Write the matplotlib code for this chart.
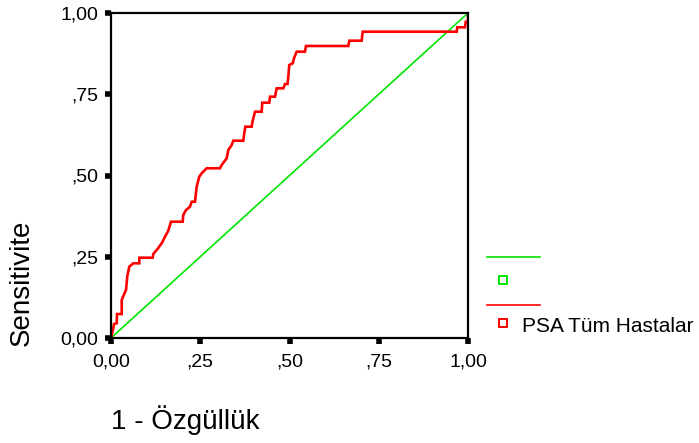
import matplotlib.pyplot as plt
from matplotlib.lines import Line2D

plt.rcParams['font.family'] = ['Liberation Sans', 'DejaVu Sans']

# ROC curve vertices
fpr = [0.0, 0.002, 0.0064, 0.0084, 0.016, 0.0168, 0.030, 0.030, 0.0345, 0.042,
       0.0457, 0.0513, 0.0625, 0.0793, 0.0793, 0.1168, 0.1185, 0.1297, 0.142, 0.1513,
       0.1605, 0.168, 0.2008, 0.2025, 0.21, 0.2213, 0.226, 0.2353, 0.24, 0.2473,
       0.254, 0.268, 0.3053, 0.31, 0.324, 0.3286, 0.338, 0.3426, 0.3706, 0.3725,
       0.3762, 0.394, 0.397, 0.4034, 0.422, 0.4238, 0.4434, 0.4454, 0.4594, 0.4641,
       0.4826, 0.4874, 0.4944, 0.4966, 0.4994, 0.509, 0.5126, 0.520, 0.5434, 0.5462,
       0.6647, 0.6675, 0.7022, 0.705, 0.9683, 0.970, 0.9916, 0.9936, 1.0, 1.0]
tpr = [0.0, 0.0092, 0.0308, 0.0431, 0.0452, 0.0738, 0.0738, 0.1169, 0.1292, 0.1477,
       0.1908, 0.2194, 0.2298, 0.2298, 0.2471, 0.2471, 0.2585, 0.2729, 0.2914, 0.3117,
       0.3302, 0.3578, 0.3578, 0.3785, 0.3938, 0.404, 0.4194, 0.4194, 0.4655, 0.4963,
       0.5068, 0.5222, 0.5222, 0.5323, 0.5529, 0.5785, 0.5938, 0.6071, 0.6071, 0.6246,
       0.6502, 0.6502, 0.6686, 0.6963, 0.6963, 0.724, 0.724, 0.7425, 0.7425, 0.7683,
       0.7683, 0.7815, 0.7815, 0.804, 0.84, 0.8452, 0.8606, 0.8809, 0.8809, 0.8985,
       0.8985, 0.9148, 0.9148, 0.9425, 0.9425, 0.956, 0.956, 0.9732, 0.9732, 1.0]

ref_x = [0, 1]
ref_y = [0, 1]

ticks = [0, 0.25, 0.5, 0.75, 1.0]
tick_labels = ['0,00', ',25', ',50', ',75', '1,00']
series_label = 'PSA Tüm Hastalar'

green = '#00e600'
red = '#ff0000'

fig = plt.figure(figsize=(6.99, 4.43), dpi=100)
ax = fig.add_axes([111 / 699, 1 - 338 / 443, 357 / 699, 325 / 443])

ax.plot(ref_x, ref_y, color=green, lw=1.2, solid_capstyle='butt')
ax.plot(fpr, tpr, color=red, lw=1.9, solid_joinstyle='miter')

ax.set_xlim(0, 1)
ax.set_ylim(0, 1)
ax.set_xticks(ticks)
ax.set_xticklabels(tick_labels)
ax.set_yticks(ticks)
ax.set_yticklabels(tick_labels)
ax.tick_params(direction='out', length=4, width=4, labelsize=14, color='black')
ax.tick_params(axis='x', pad=7)
ax.tick_params(axis='y', pad=5)
for s in ax.spines.values():
    s.set_linewidth(1.6)
    s.set_color('black')

fig.text(22 / 699, 1 - 283 / 443, 'Sensitivite', rotation=90, fontsize=20,
         ha='center', va='center')
fig.text(111 / 699, 1 - 420 / 443, '1 - Özgüllük', fontsize=20, ha='left', va='center')

# legend drawn by hand, as in the original SPSS output
def fx(px):
    return px / 699

def fy(py):
    return 1 - py / 443

fig.add_artist(Line2D([fx(487), fx(540)], [fy(257), fy(257)], color=green, lw=1.2))
fig.add_artist(Line2D([fx(503)], [fy(280)], marker='s', ms=5.5, mfc='white', mec=green, mew=1.4, ls='none'))
fig.add_artist(Line2D([fx(487), fx(540)], [fy(305), fy(305)], color=red, lw=1.2))
fig.add_artist(Line2D([fx(503)], [fy(323)], marker='s', ms=5.5, mfc='white', mec=red, mew=1.4, ls='none'))
fig.text(fx(522), fy(326), series_label, fontsize=15, ha='left', va='center')

fig.savefig('out.png', dpi=100)
